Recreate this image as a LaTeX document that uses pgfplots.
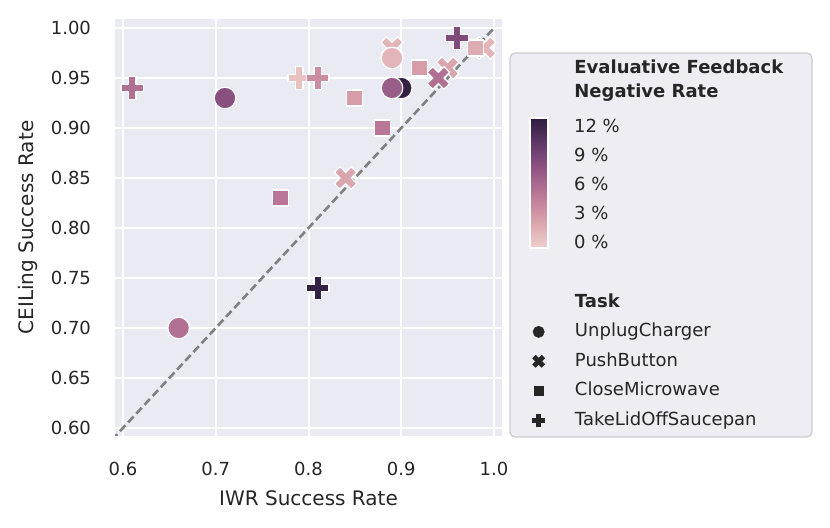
\documentclass[border=0pt]{standalone}
\usepackage{pgfplots}
\pgfplotsset{compat=1.18}
\usepackage{fontspec}
\setmainfont{DejaVu Sans}
\definecolor{bg}{HTML}{EAEAF2}
\definecolor{legbg}{HTML}{EDEDF3}
\definecolor{txt}{HTML}{262626}

\pgfdeclareplotmark{Pfill}{%
  \pgfmathsetlengthmacro\mkS{\pgfplotmarksize}%
  \pgfmathsetlengthmacro\mkA{\pgfplotmarksize/3}%
  \pgfpathmoveto{\pgfqpoint{-\mkA}{-\mkS}}%
  \pgfpathlineto{\pgfqpoint{\mkA}{-\mkS}}%
  \pgfpathlineto{\pgfqpoint{\mkA}{-\mkA}}%
  \pgfpathlineto{\pgfqpoint{\mkS}{-\mkA}}%
  \pgfpathlineto{\pgfqpoint{\mkS}{\mkA}}%
  \pgfpathlineto{\pgfqpoint{\mkA}{\mkA}}%
  \pgfpathlineto{\pgfqpoint{\mkA}{\mkS}}%
  \pgfpathlineto{\pgfqpoint{-\mkA}{\mkS}}%
  \pgfpathlineto{\pgfqpoint{-\mkA}{\mkA}}%
  \pgfpathlineto{\pgfqpoint{-\mkS}{\mkA}}%
  \pgfpathlineto{\pgfqpoint{-\mkS}{-\mkA}}%
  \pgfpathlineto{\pgfqpoint{-\mkA}{-\mkA}}%
  \pgfpathclose
  \pgfusepathqfillstroke}

\pgfdeclareplotmark{Xfill}{%
  \pgfmathsetlengthmacro\mkS{\pgfplotmarksize}%
  \pgfmathsetlengthmacro\mkH{\pgfplotmarksize/2}%
  \pgfpathmoveto{\pgfqpoint{-\mkH}{-\mkS}}%
  \pgfpathlineto{\pgfqpoint{0pt}{-\mkH}}%
  \pgfpathlineto{\pgfqpoint{\mkH}{-\mkS}}%
  \pgfpathlineto{\pgfqpoint{\mkS}{-\mkH}}%
  \pgfpathlineto{\pgfqpoint{\mkH}{0pt}}%
  \pgfpathlineto{\pgfqpoint{\mkS}{\mkH}}%
  \pgfpathlineto{\pgfqpoint{\mkH}{\mkS}}%
  \pgfpathlineto{\pgfqpoint{0pt}{\mkH}}%
  \pgfpathlineto{\pgfqpoint{-\mkH}{\mkS}}%
  \pgfpathlineto{\pgfqpoint{-\mkS}{\mkH}}%
  \pgfpathlineto{\pgfqpoint{-\mkH}{0pt}}%
  \pgfpathlineto{\pgfqpoint{-\mkS}{-\mkH}}%
  \pgfpathclose
  \pgfusepathqfillstroke}

\pgfplotsset{
  taskleg/.style={only marks, draw=txt, fill=txt, line width=0.3pt,
    legend image code/.code={\draw[##1] plot coordinates {(10pt,0pt)}; \path (0pt,0pt) (27pt,0pt);}},
  pts/.style={scatter, only marks, forget plot, point meta=explicit,
    scatter/use mapped color={draw=white, fill=mapped color},
    mark options={line width=0.6pt}},
}

\begin{document}
\begin{tikzpicture}
% legend box (pixel coordinates of the reference image)
\begin{scope}[shift={(-57.5pt,218pt)}, x=0.5pt, y=-0.5pt]
  \draw[rounded corners=2.5pt, fill=legbg, draw=black!20, line width=0.6pt] (510,53) rectangle (812,437);
\end{scope}
\begin{axis}[
  scale only axis, width=193.5pt, height=208.5pt,
  xmin=0.5914, xmax=1.0086, ymin=0.592, ymax=1.009,
  xtick={0.6,0.7,0.8,0.9,1.0},
  ytick={0.60,0.65,0.70,0.75,0.80,0.85,0.90,0.95,1.00},
  grid=major, major grid style={white, line width=1pt},
  axis background/.style={fill=bg},
  axis line style={draw=none},
  major tick length=0pt,
  /pgf/number format/assume math mode=true,
  tick label style={font=\fontsize{9}{11}\selectfont, text=txt},
  xticklabel style={yshift=-9.5pt, /pgf/number format/.cd, fixed, fixed zerofill, precision=1},
  yticklabel style={xshift=-8.5pt, /pgf/number format/.cd, fixed, fixed zerofill, precision=2},
  xlabel={IWR Success Rate}, ylabel={CEILing Success Rate},
  label style={font=\fontsize{10}{12}\selectfont, text=txt},
  xlabel style={at={(axis description cs:0.5,-0.149)}, anchor=center},
  ylabel style={at={(axis description cs:-0.225,0.5)}, anchor=center},
  colormap={ch}{rgb=(0.9313,0.8202,0.7971) rgb=(0.8560,0.6419,0.6754) rgb=(0.7397,0.4765,0.5960) rgb=(0.5792,0.3393,0.5219) rgb=(0.3789,0.2225,0.4114) rgb=(0.1751,0.1184,0.2422)},
  point meta min=-0.62, point meta max=12.83,
  colorbar,
  colorbar style={
    at={(parent axis.north east)}, anchor=north west,
    xshift=5.5pt, yshift=-49.5pt,
    scale only axis, width=9pt, height=65pt,
    ytick={0,3,6,9,12}, yticklabels={0 \%,3 \%,6 \%,9 \%,12 \%},
    axis line style={draw=white, line width=1.3pt},
    major tick length=0pt,
    yticklabel style={font=\fontsize{9}{11}\selectfont, text=txt, xshift=9.5pt},
  },
  legend style={at={(axis description cs:1.0413,0.3475)}, anchor=north west,
    draw=none, fill=none, font=\fontsize{9}{11}\selectfont, text=txt,
    row sep=3.7pt, inner sep=0pt,
    nodes={inner sep=1pt, text height=7pt, text depth=2pt, anchor=west}},
  legend cell align=left,
]
% PushButton (X)
\addplot[pts, mark=Xfill, mark size=5.6pt] table[meta=c] {
x y c
0.89 0.98 1.0
0.84 0.85 2.0
0.95 0.96 2.0
0.94 0.95 5.5
0.99 0.98 1.0
};
% CloseMicrowave (squares)
\addplot[pts, mark=square*, mark size=4.0pt] table[meta=c] {
x y c
0.77 0.83 5.0
0.85 0.93 2.5
0.88 0.90 5.0
0.92 0.96 2.5
0.98 0.98 1.5
};
% UnplugCharger (circles)
\addplot[pts, mark=*, mark size=5.4pt] table[meta=c] {
x y c
0.90 0.94 12.5
0.71 0.93 8.0
0.66 0.70 5.5
0.89 0.94 7.0
0.89 0.97 1.0
};
% TakeLidOffSaucepan (plus)
\addplot[pts, mark=Pfill, mark size=5.6pt] table[meta=c] {
x y c
0.61 0.94 5.5
0.79 0.95 0.3
0.81 0.95 3.5
0.96 0.99 8.5
0.81 0.74 12.5
};
% diagonal
\addplot[forget plot, color=gray, line width=1.3pt, dash pattern=on 4pt off 2pt] coordinates {(0.5,0.5) (1.0,1.0)};
% legend
\addlegendimage{empty legend}\addlegendentry{\textbf{Task}}
\addlegendimage{taskleg, mark=*, mark size=2.8pt}\addlegendentry{UnplugCharger}
\addlegendimage{taskleg, mark=Xfill, mark size=3pt}\addlegendentry{PushButton}
\addlegendimage{taskleg, mark=square*, mark size=2.1pt}\addlegendentry{CloseMicrowave}
\addlegendimage{taskleg, mark=Pfill, mark size=3pt}\addlegendentry{TakeLidOffSaucepan}
\end{axis}
\begin{scope}[shift={(-57.5pt,218pt)}, x=0.5pt, y=-0.5pt]
  \node[anchor=west, inner sep=0pt, text=txt, font=\bfseries\fontsize{9}{11}\selectfont] at (574,67) {Evaluative Feedback};
  \node[anchor=west, inner sep=0pt, text=txt, font=\bfseries\fontsize{9}{11}\selectfont] at (574,93) {Negative Rate};
\end{scope}
\pgfresetboundingbox
\path (-57.5pt,-46pt) rectangle (357.5pt,218pt);
\end{tikzpicture}
\end{document}
